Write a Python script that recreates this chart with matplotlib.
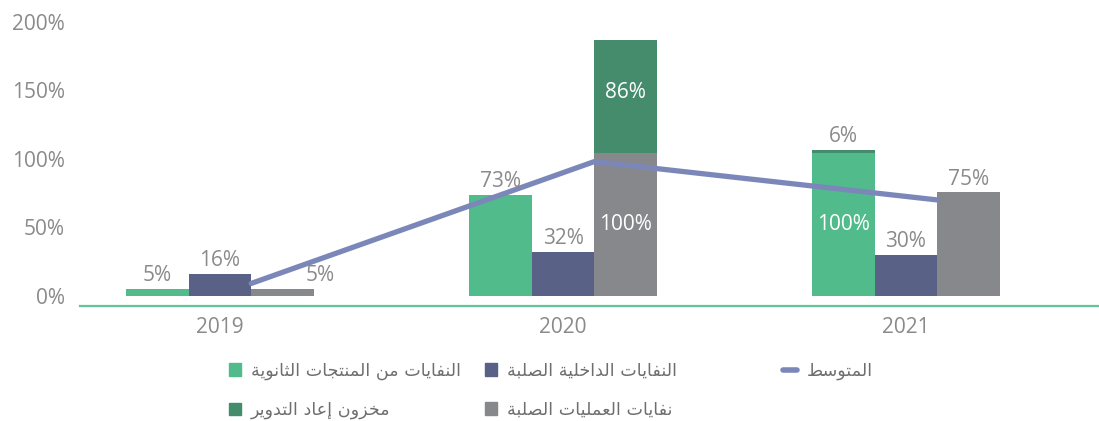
import numpy as np
import matplotlib.pyplot as plt
from matplotlib.patches import Patch
from matplotlib.lines import Line2D

# presentation-form shaping for the arabic labels (matplotlib has no shaper)
DUAL = {'ب': 0xFE8F, 'ت': 0xFE95, 'ث': 0xFE99, 'ج': 0xFE9D, 'خ': 0xFEA5,
        'س': 0xFEB1, 'ص': 0xFEB9, 'ط': 0xFEC1, 'ع': 0xFEC9, 'ف': 0xFED1,
        'ل': 0xFEDD, 'م': 0xFEE1, 'ن': 0xFEE5, 'ي': 0xFEF1}
RIGHT = {'ا': 0xFE8D, 'إ': 0xFE87, 'ة': 0xFE93, 'د': 0xFEA9, 'ر': 0xFEAD,
         'ز': 0xFEAF, 'و': 0xFEED}


def shape(text):
    out = []
    for i, ch in enumerate(text):
        if ch not in DUAL and ch not in RIGHT:
            out.append(ch)
            continue
        base = DUAL.get(ch, RIGHT.get(ch))
        prev = text[i - 1] if i > 0 else ''
        nxt = text[i + 1] if i + 1 < len(text) else ''
        jp = prev in DUAL
        jn = ch in DUAL and (nxt in DUAL or nxt in RIGHT)
        off = 3 if (jp and jn) else 1 if jp else 2 if jn else 0
        out.append(chr(base + off))
    return ''.join(out[::-1])


years = ['2019', '2020', '2021']
byproduct = [5, 73.5, 104.5]
internal = [16, 32, 30]
operations = [5, 104.5, 75.5]
recycle = [0, 82.5, 2]
recycle_slot = [2, 2, 0]
average = [9, 98, 70]

byproduct_lbl = ['5%', '73%', '100%']
internal_lbl = ['16%', '32%', '30%']
operations_lbl = ['5%', '100%', '75%']
recycle_lbl = ['', '86%', '6%']

names = ['النفايات من المنتجات الثانوية', 'النفايات الداخلية الصلبة',
         'نفايات العمليات الصلبة', 'مخزون إعاد التدوير', 'المتوسط']

c_green = '#52bb8b'
c_navy = '#5a6187'
c_gray = '#87888c'
c_dgreen = '#458c6d'
c_line = '#7c87b9'
c_text = '#8a8a8a'

fig = plt.figure(figsize=(10.99, 4.21), dpi=100)
ax = fig.add_axes([80 / 1099, 115 / 421, 1 - 80 / 1099, 284 / 421])

x = np.arange(len(years))
bw = 0.182
series = [byproduct, internal, operations]
cols = [c_green, c_navy, c_gray]
lbls = [byproduct_lbl, internal_lbl, operations_lbl]
for k in range(3):
    ax.bar(x + (k - 1) * bw, series[k], bw, color=cols[k])

rec_bottom = [series[recycle_slot[i]][i] for i in range(3)]
rec_x = x + (np.array(recycle_slot) - 1) * bw
ax.bar(rec_x, recycle, bw, bottom=rec_bottom, color=c_dgreen)

ax.plot(x + bw / 2, average, color=c_line, lw=3.8, solid_capstyle='round', zorder=3)

font = 'Open Sans'
inside = {(2, 1), (0, 2)}
for k in range(3):
    for i in range(3):
        xi = x[i] + (k - 1) * bw
        v = series[k][i]
        if (k, i) in inside:
            ax.text(xi, v / 2, lbls[k][i], ha='center', va='center', color='white',
                    fontsize=15, family=font, zorder=4)
        else:
            dx = 38 if (k, i) == (2, 0) else 0
            ax.annotate(lbls[k][i], (xi, v), xytext=(dx * 0.72, 2), textcoords='offset points',
                        ha='center', va='bottom', color=c_text, fontsize=15, family=font, zorder=4)

ax.text(rec_x[1], rec_bottom[1] + recycle[1] / 2 + 3, recycle_lbl[1], ha='center', va='center',
        color='white', fontsize=15, family=font, zorder=4)
ax.annotate(recycle_lbl[2], (rec_x[2], rec_bottom[2] + recycle[2]), xytext=(0, 2),
            textcoords='offset points', ha='center', va='bottom', color=c_text, fontsize=15,
            family=font)

ax.set_xlim(-140 / 343, (1099 - 220) / 343)
ax.set_ylim(-7.5, 200)
ax.set_yticks([0, 50, 100, 150, 200])
ax.set_yticklabels(['0%', '50%', '100%', '150%', '200%'])
ax.set_xticks(x)
ax.set_xticklabels(years)
for s in ['top', 'right', 'left']:
    ax.spines[s].set_visible(False)
ax.spines['bottom'].set_color('#63c49a')
ax.spines['bottom'].set_linewidth(1.6)
ax.tick_params(axis='both', length=0, labelsize=15, labelcolor=c_text)
ax.tick_params(axis='y', pad=11)
ax.tick_params(axis='x', pad=8)
for t in ax.get_xticklabels() + ax.get_yticklabels():
    t.set_family(font)

# legend drawn as three columns, handle left of the arabic text
leg_kw = dict(loc='upper left', frameon=False, borderpad=0, borderaxespad=0,
              prop={'family': 'DejaVu Sans', 'size': 12.6}, labelcolor='#6e6e6e',
              labelspacing=1.2, handletextpad=0.55)
top = 0.141
fig.legend([Patch(color=c_green), Patch(color=c_dgreen)], [shape(names[0]), shape(names[3])],
           bbox_to_anchor=(229 / 1099, top), handlelength=0.68, handleheight=0.68, **leg_kw)
fig.legend([Patch(color=c_navy), Patch(color=c_gray)], [shape(names[1]), shape(names[2])],
           bbox_to_anchor=(485 / 1099, top), handlelength=0.68, handleheight=0.68, **leg_kw)
fig.legend([Line2D([0], [0], color=c_line, lw=4, solid_capstyle='round')], [shape(names[4])],
           bbox_to_anchor=(783 / 1099, top), handlelength=0.8, **leg_kw)

fig.savefig('out.png', dpi=100)
